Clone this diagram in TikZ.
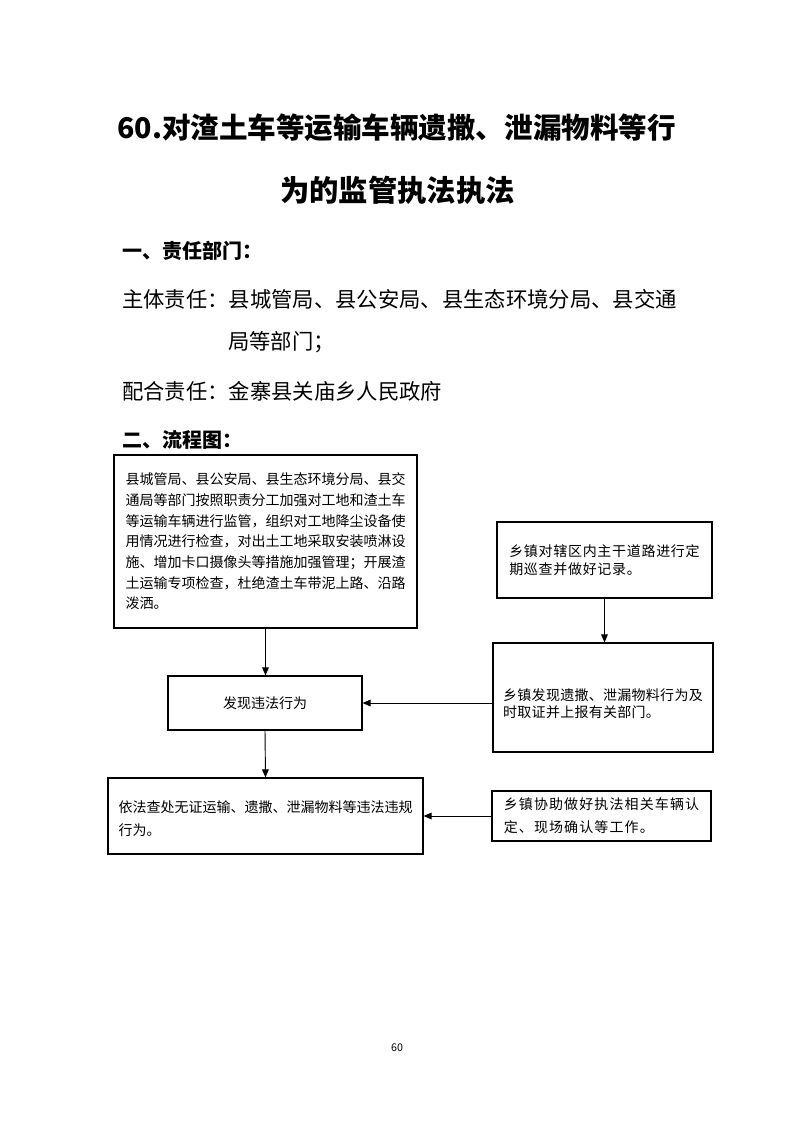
\documentclass[tikz,border=0pt]{standalone}
\usepackage{fontspec}
\setmainfont{Noto Sans CJK SC}
\usetikzlibrary{arrows.meta}
\begin{document}
\begin{tikzpicture}[x=0.75pt,y=-0.75pt,
  wh/.style 2 args={minimum width=#1*0.75pt, minimum height=#2*0.75pt},
  box/.style={draw, line width=0.9pt, inner sep=0pt, align=left},
  boxtext/.style={font=\fontsize{10.5pt}{15.5pt}\selectfont},
  boxtextb/.style={font=\fontsize{10.5pt}{17.25pt}\selectfont},
  boxtextw/.style={font=\fontsize{10.5pt}{13.5pt}\selectfont\addfontfeatures{LetterSpace=5}},
  boxtextv/.style={font=\fontsize{10.5pt}{17.25pt}\selectfont\addfontfeatures{LetterSpace=8}},
  plain/.style={inner sep=0pt, align=left},
  arr/.style={line width=0.7pt, -{Triangle[length=6pt,width=5pt]}},
  titletext/.style={font=\bfseries\fontsize{22pt}{26pt}\selectfont, inner sep=0pt},
  head/.style={font=\bfseries\fontsize{15pt}{20pt}\selectfont, anchor=west, inner sep=0pt},
  body/.style={font=\fontsize{16pt}{20pt}\selectfont, anchor=west, inner sep=0pt}
]
\useasboundingbox (0,0) rectangle (793,1122);
\fill[white] (0,0) rectangle (793,1122);

\node[titletext, font=\bfseries\fontsize{21.4pt}{26pt}\selectfont] (t1) at (396.5,128) {60.对渣土车等运输车辆遗撒、泄漏物料等行};
\node[titletext] (t2) at (397.5,190) {为的监管执法执法};

\node[head] (h1) at (122,251) {一、责任部门：};
\node[body] (l1) at (122,299) {主体责任：县城管局、县公安局、县生态环境分局、县交通};
\node[body] (l2) at (228,342) {局等部门；};
\node[body] (l3) at (122,391) {配合责任：金寨县关庙乡人民政府};
\node[head] (h2) at (122,440) {二、流程图：};

\node[box, boxtext, wh={303}{173}] (b1) at (265.5,541.5) {县城管局、县公安局、县生态环境分局、县交\\通局等部门按照职责分工加强对工地和渣土车\\等运输车辆进行监管，组织对工地降尘设备使\\用情况进行检查，对出土工地采取安装喷淋设\\施、增加卡口摄像头等措施加强管理；开展渣\\土运输专项检查，杜绝渣土车带泥上路、沿路\\泼洒。};
\node[box, boxtext, wh={194}{54}] (b2) at (265,703) {发现违法行为};
\node[box, wh={315}{76}] (b3) at (265.5,816) {};
\node[plain, boxtextb] (b3t) at (265.5,819) {依法查处无证运输、遗撒、泄漏物料等违法违规\\行为。};
\node[box, boxtextw, wh={215}{76}] (b4) at (604.5,560) {乡镇对辖区内主干道路进行定\\期巡查并做好记录。};
\node[box, wh={220}{109}] (b5) at (603,697.5) {};
\node[plain, boxtextw, font=\fontsize{10.5pt}{13pt}\selectfont\addfontfeatures{LetterSpace=2}] (b5t) at (603,703.5) {乡镇发现遗撒、泄漏物料行为及\\时取证并上报有关部门。};
\node[box, boxtextv, wh={219}{50}] (b6) at (601.5,816) {乡镇协助做好执法相关车辆认\\定、现场确认等工作。};

\draw[arr] (b1.south) -- (b1.south |- b2.north);
\draw[arr] (b2.south) -- (b3.north);
\draw[arr] (b4.south) -- (b4.south |- b5.north);
\draw[arr] (b5.west |- b2.east) -- (b2.east);
\draw[arr] (b6.west |- b3.east) -- (b3.east);

\node[font=\fontsize{8pt}{10pt}\selectfont, inner sep=0pt] (pg) at (397,1048) {60};
\end{tikzpicture}
\end{document}
